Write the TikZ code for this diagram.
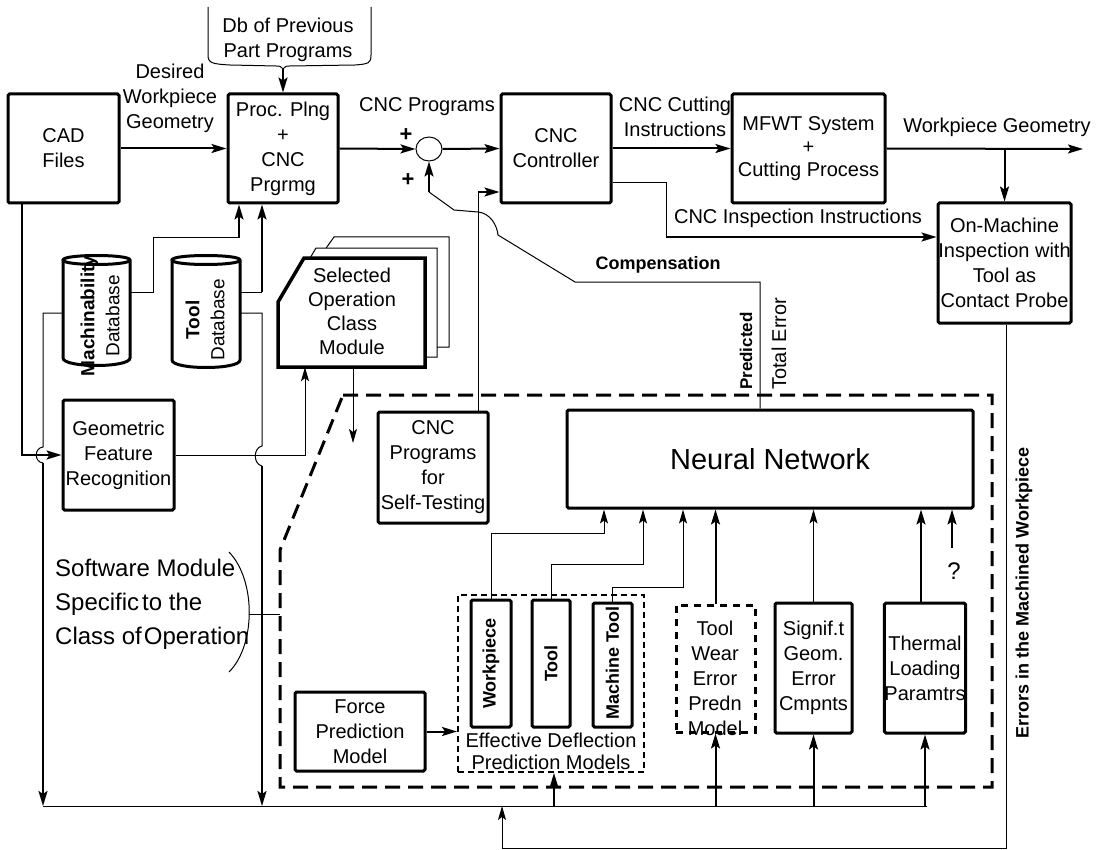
\documentclass[tikz,border=0pt]{standalone}
\usepackage{fontspec}
\setmainfont{Liberation Sans}
\usetikzlibrary{arrows.meta,positioning,calc,shapes.geometric}

\begin{document}
\begin{tikzpicture}[x=1pt,y=-1pt,
    blk/.style={draw,line width=3pt,rounded corners=1.5pt,align=center,inner sep=0pt,font=\fontsize{20}{25}\selectfont},
    lbl/.style={align=center,inner sep=0pt,font=\fontsize{20}{25}\selectfont},
    rot/.style={rotate=90,align=center,inner sep=0pt,font=\bfseries\fontsize{18}{25}\selectfont},
    conn/.style={line width=2pt,-{Stealth[length=15pt,width=9pt,inset=3pt]}},
    thinl/.style={line width=1pt},
    thinc/.style={line width=1pt,-{Stealth[length=14pt,width=8pt,inset=3pt]}},
    region/.style={line width=3pt,dash pattern=on 15pt off 8pt}]
  \useasboundingbox (0,0) rectangle (1099,850);

  % top row
  \node[blk,minimum width=111,minimum height=109] (cad) at (63.5,148.5) {CAD\\Files};
  \node[blk,minimum width=110,minimum height=109] (proc) at (283,148.5) {Proc. Plng\\+\\CNC\\Prgrmg};
  \node[draw,ellipse,line width=1pt,minimum width=26,minimum height=24,inner sep=0pt] (sum) at (429,149) {};
  \node[blk,minimum width=110,minimum height=109] (ctrl) at (556,148.5) {CNC\\Controller};
  \node[blk,minimum width=153,minimum height=109,font=\fontsize{20}{23}\selectfont] (mfwt) at (808.5,148.5) {MFWT System\\+\\Cutting Process};
  \node[blk,minimum width=133,minimum height=120] (insp) at (1004.5,263) {On-Machine\\Inspection with\\Tool as\\Contact Probe};
  \coordinate (out) at (1083,149);

  % db of previous part programs
  \node[lbl] (db) at (288,40) {Db of Previous\\Part Programs};
  \draw[thinl] (208,7) -- (208,55) .. controls (208,63) and (212,64) .. (230,65) -- (276,66)
    .. controls (280,66) .. (283,69) .. controls (286,66) .. (290,66) -- (355,65)
    .. controls (369,64) and (371,63) .. (371,55) -- (371,7);
  \coordinate (dbtip) at (283,69);

  % labels on the top row
  \node[lbl] (desired) at (170,98) {Desired\\Workpiece\\Geometry};
  \node[lbl] (cncp) at (427,107) {CNC Programs};
  \node[font=\bfseries\fontsize{22}{22}\selectfont,inner sep=0pt] (plusa) at (406,135) {+};
  \node[font=\bfseries\fontsize{22}{22}\selectfont,inner sep=0pt] (plusb) at (408,180) {+};
  \node[lbl] (cut) at (675,117) {CNC Cutting\\Instructions};
  \node[lbl] (wpg) at (997,127) {Workpiece Geometry};
  \node[lbl] (ii) at (798,218) {CNC Inspection Instructions};

  \draw[conn] (cad) -- (proc);
  \draw[conn] (dbtip) -- (proc.north);
  \draw[conn] (proc.east) -- (sum.west);
  \draw[conn] (sum.east) -- (ctrl.west);
  \draw[conn] (ctrl.east) -- (mfwt.west);
  \draw[conn] (mfwt.east) -- (out);
  \draw[conn] (insp.north |- out) -- (insp.north);
  \draw[thinl] (ctrl.east |- 0,183) -| (666,237);
  \draw[conn] (666,237) -- (insp.west |- 0,237);

  % databases
  \draw[line width=3pt,fill=white] (63,260) -- (63,358) .. controls (63,368) and (130,368) .. (130,358) -- (130,260)
    .. controls (130,254) and (63,254) .. (63,260) .. controls (63,266) and (130,266) .. (130,260);
  \node[rot,font=\fontsize{19}{25}\selectfont] (mach) at (100,316) {{\bfseries Machinability}\\Database};
  \draw[line width=3pt,fill=white] (172,260) -- (172,360) .. controls (172,370) and (240,370) .. (240,360) -- (240,260)
    .. controls (240,254) and (172,254) .. (172,260) .. controls (172,266) and (240,266) .. (240,260);
  \node[rot,font=\fontsize{19}{25}\selectfont] (tooldb) at (205,320) {{\bfseries Tool}\\Database};

  \draw[thinl] (130,292) -| (153,238) -- (239,238);
  \draw[conn] (239,238) -- (proc.south -| 239,0);
  \draw[thinl] (240,292) -- (262,292);
  \draw[conn] (262,292) -- (proc.south -| 262,0);

  % geometric feature recognition
  \node[blk,minimum width=111,minimum height=110] (geo) at (118.5,455) {Geometric\\Feature\\Recognition};
  \draw[conn] (cad.south -| 22,0) |- (geo.west);
  \draw[thinl] (63,313) -| (43,447) .. controls (34,448) and (34,462) .. (43,463);
  \draw[conn] (43,463) -- (43,806);
  \draw[thinl] (240,313) -| (262,446) .. controls (253,448) and (253,464) .. (262,466);
  \draw[conn] (262,466) -- (262,806);

  % selected operation class module
  \draw[thinl,fill=white] (334,237) -- (449,237) -- (449,347) -- (302,347) -- (302,282) -- cycle;
  \draw[thinl,fill=white] (316,248) -- (437,248) -- (437,357) -- (290,357) -- (290,292) -- cycle;
  \draw[line width=3.5pt,fill=white] (304,258) -- (425,258) -- (425,367) -- (278,367) -- (278,302) -- cycle;
  \node[minimum width=147,minimum height=109,inner sep=0pt] (sel) at (351.5,312.5) {};
  \node[lbl,font=\fontsize{20}{24}\selectfont] (seltext) at (352,311) {Selected\\Operation\\Class\\Module};
  \draw[thinc] (geo.east) -| (sel.south -| 305,0);
  \draw[thinc] (sel.south -| 353,0) -- (353,443);

  % compensation loop
  \node[blk,minimum width=110,minimum height=111] (selfp) at (433,467.5) {CNC\\Programs\\for\\Self-Testing};
  \draw[thinl] (selfp.north -| 478,0) -- (478,192);
  \draw[conn] (478,192) -- (ctrl.west |- 0,192);
  \node[blk,minimum width=406,minimum height=98,font=\fontsize{29}{34}\selectfont] (nn) at (770,459) {Neural Network};
  \draw[thinl] (nn.north -| 760,0) -- (760,282) -- (575,282) -- (498,235)
    .. controls (497,225) and (490,213) .. (478,212) -- (454,210) -- (429,192);
  \draw[conn] (429,192) -- (sum.south);
  \node[font=\bfseries\fontsize{18}{18}\selectfont,inner sep=0pt] (comp) at (658,265) {Compensation};
  \node[rotate=90,anchor=west,inner sep=0pt,font=\bfseries\fontsize{17}{17}\selectfont] (pred) at (746,390) {Predicted};
  \node[rotate=90,anchor=west,inner sep=0pt,font=\fontsize{20}{20}\selectfont] (toterr) at (779,390) {Total Error};

  % software module region
  \draw[region] (343,395) -- (992,395) -- (992,787) -- (280,787) -- (280,550) -- cycle;
  \node[align=left,anchor=west,inner sep=0pt,font=\fontsize{24}{34}\selectfont] (swm) at (55,604)
    {Software Module\\Specific\kern3pt to the\\Class of\kern2pt Operation};
  \draw[thinl] (229,552) .. controls (256,580) and (256,645) .. (229,672);
  \coordinate (brace) at (249,614);
  \draw[thinl] (brace) -- (280,614);

  % models
  \node[blk,minimum width=130,minimum height=79] (force) at (360,731.5) {Force\\Prediction\\Model};
  \node[draw,line width=2pt,dash pattern=on 6pt off 4pt,minimum width=186,minimum height=177] (eff) at (551,683.5) {};
  \node[lbl,font=\fontsize{20}{22}\selectfont] (efftext) at (551,751) {Effective Deflection\\Prediction Models};
  \draw[conn] (force.east) -- (force.east -| eff.west);
  \node[blk,minimum width=40,minimum height=127] (wp) at (491,663.5) {};
  \node[rot] (wptext) at (wp) {Workpiece};
  \node[blk,minimum width=38,minimum height=127] (tl) at (551,663.5) {};
  \node[rot] (tltext) at (tl) {Tool};
  \node[blk,minimum width=39,minimum height=124] (mt) at (612.5,665) {};
  \node[rot] (mttext) at (612.5,663) {Machine Tool};
  \node[draw,line width=3pt,dash pattern=on 7pt off 6pt,minimum width=79,minimum height=127] (tw) at (715.5,668.5) {};
  \node[lbl] (twtext) at (715,678) {Tool\\Wear\\Error\\Predn\\Model};
  \node[blk,minimum width=77,minimum height=130] (sg) at (813.5,668) {Signif.t\\Geom.\\Error\\Cmpnts};
  \node[blk,minimum width=78,minimum height=130] (th) at (925,668) {Thermal\\Loading\\Paramtrs};
  \node[font=\fontsize{24}{24}\selectfont,inner sep=0pt] (qm) at (954,571) {?};
  \coordinate (qtail) at (952,548);

  \draw[thinc] (wp.north) |- (604,533) -- (nn.south -| 604,0);
  \draw[thinc] (tl.north) |- (643,564) -- (nn.south -| 643,0);
  \draw[thinc] (mt.north) |- (683,587) -- (nn.south -| 683,0);
  \draw[conn] (tw.north) -- (tw.north |- nn.south);
  \draw[thinc] (sg.north) -- (sg.north |- nn.south);
  \draw[conn] (th.north -| 921,0) -- (nn.south -| 921,0);
  \draw[conn] (qtail) -- (nn.south -| qtail);

  % feedback along the bottom
  \draw[thinl] (43,806) -- (927,806);
  \draw[conn] (554,806) -- (eff.south -| 554,0);
  \draw[conn] (tw.south |- 0,806) -- (tw.south);
  \draw[conn] (sg.south |- 0,806) -- (sg.south);
  \draw[conn] (th.south |- 0,806) -- (th.south);
  \draw[thinc] (insp.south -| 1006,0) |- (502,848) -- (502,806);
  \node[rot,font=\bfseries\fontsize{18}{18}\selectfont] (errlbl) at (1024,593) {Errors in the Machined Workpiece};
\end{tikzpicture}
\end{document}
